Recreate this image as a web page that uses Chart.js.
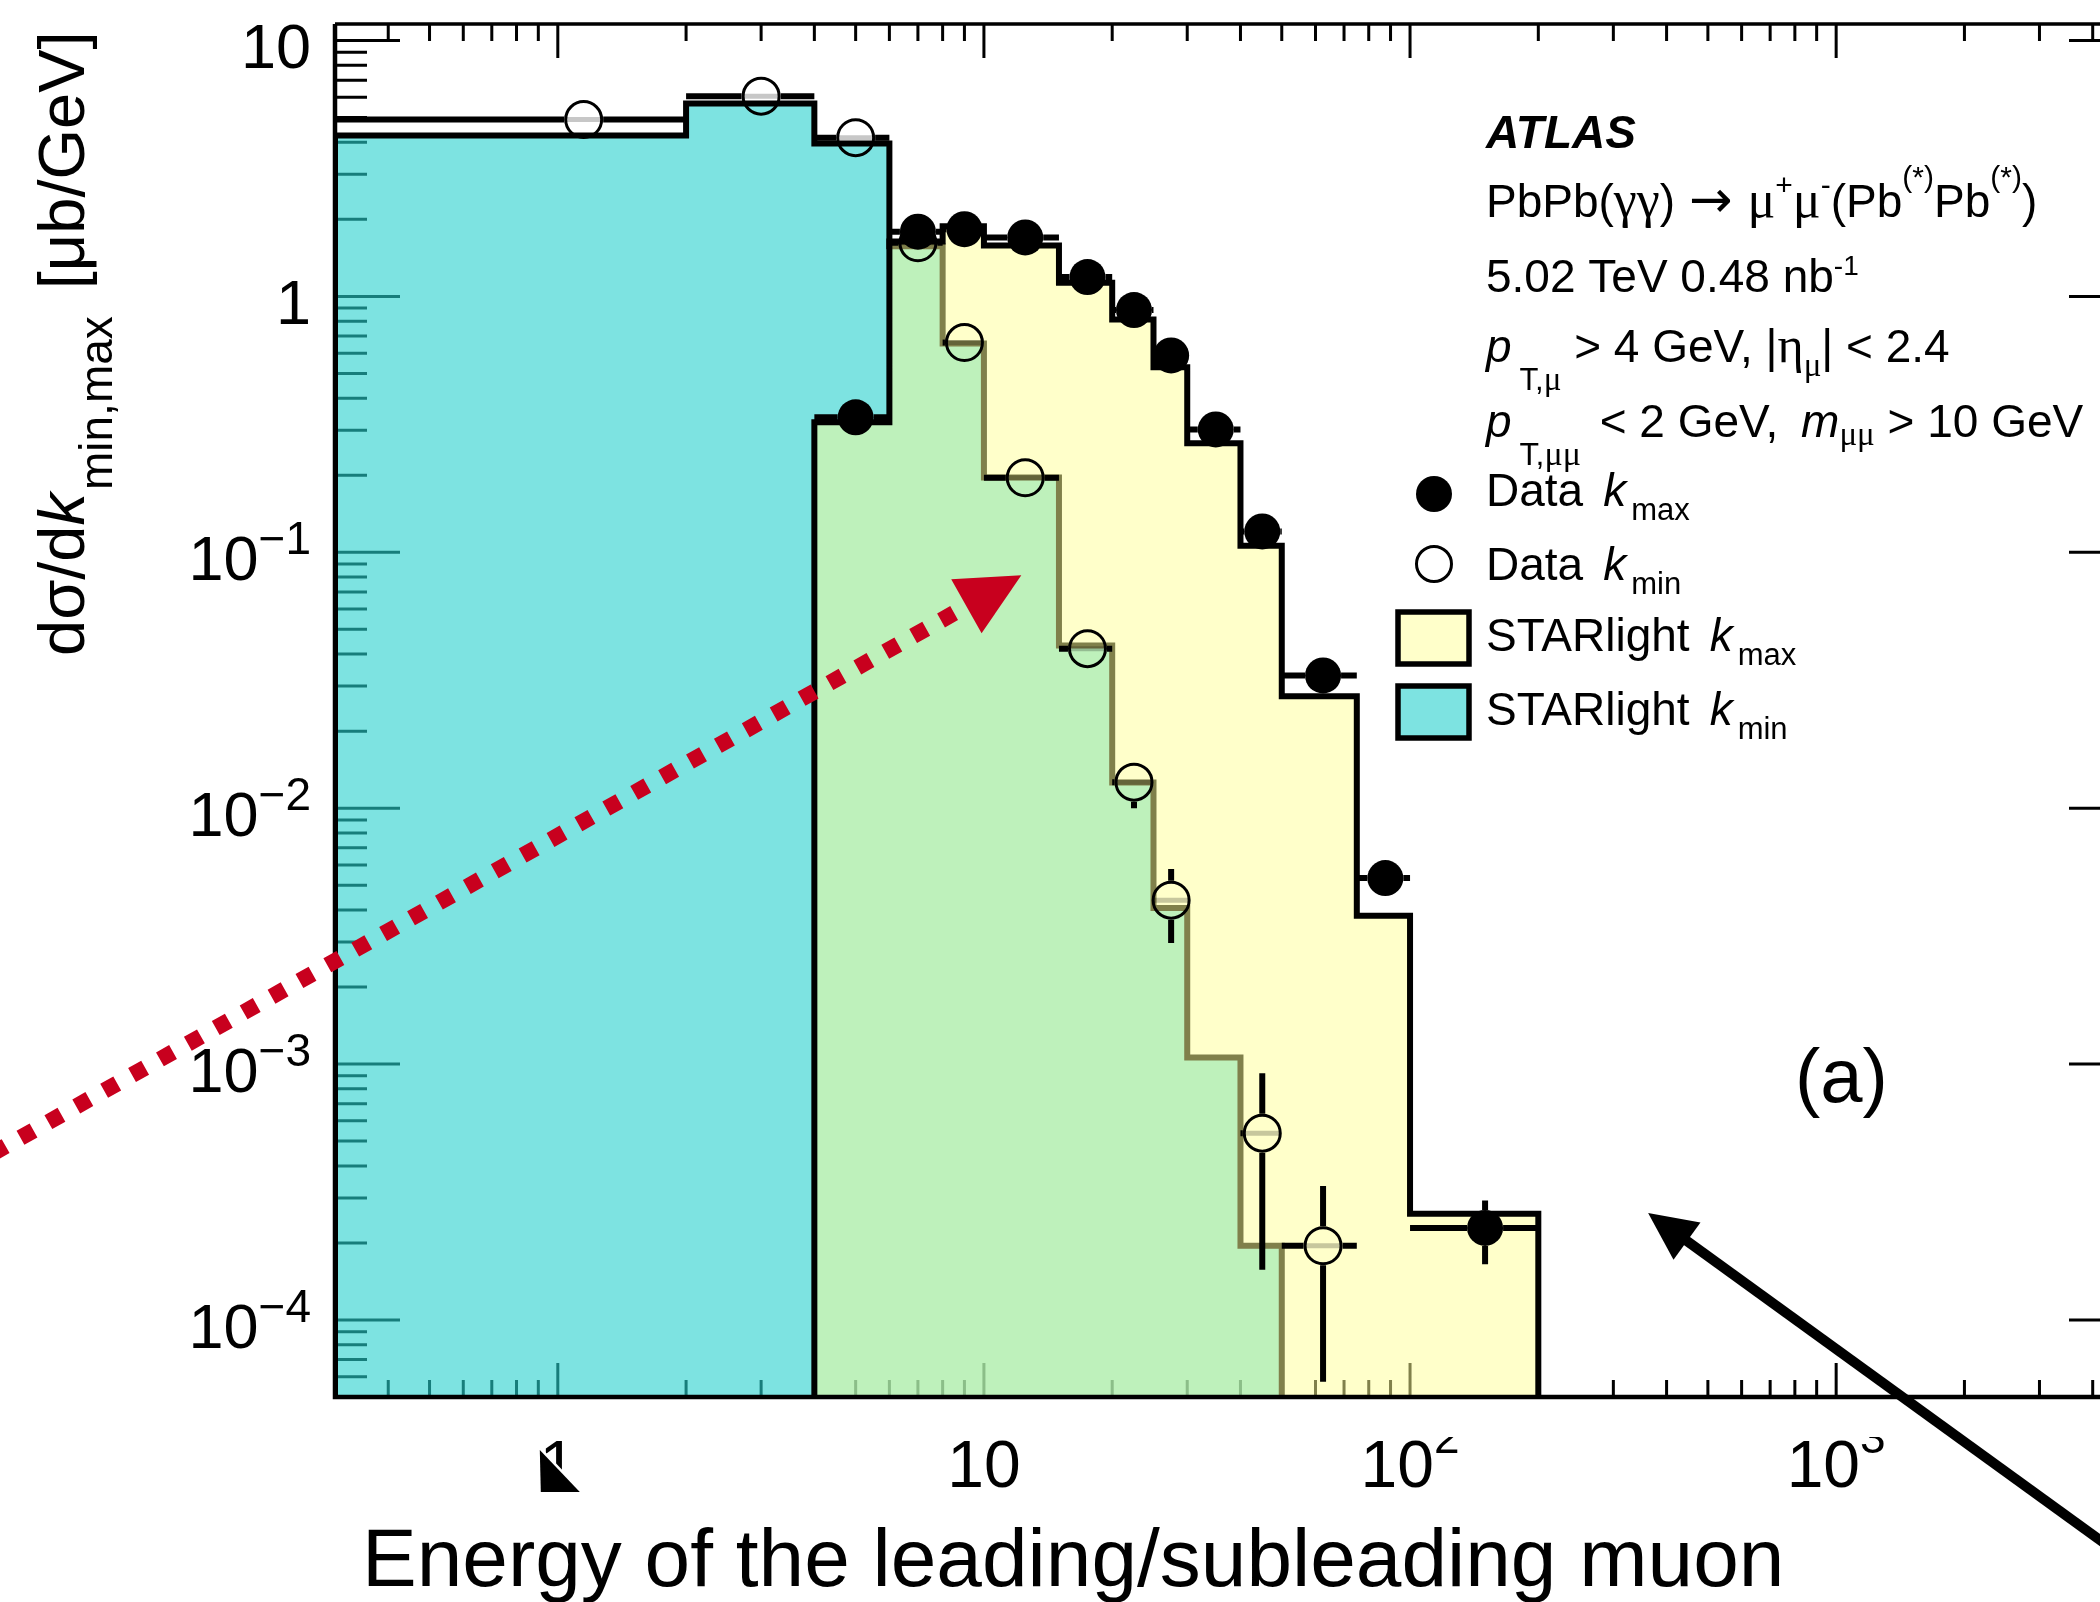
<!DOCTYPE html>
<html>
<head>
<meta charset="utf-8">
<script src="https://cdn.jsdelivr.net/npm/chart.js@4/dist/chart.umd.min.js"></script>
<style>
  html, body { margin: 0; padding: 0; background: #ffffff; overflow: hidden; width: 2100px; height: 1602px; }
  #wrap { position: absolute; left: 0; top: 0; width: 2200px; height: 1602px; }
</style>
</head>
<body>
<div id="wrap"><canvas id="c" width="2200" height="1602"></canvas></div>
<script>
// ---------------- data ----------------
const binEdges = [0.3, 2, 4, 6, 8, 10, 15, 20, 25, 30, 40, 50, 75, 100, 200];

const starlightKmin = [4.25, 5.67, 3.96, 1.57, 0.655, 0.196, 0.0432, 0.0126, 0.00407, 0.00106, 0.000195, 0, 0, 0];
const starlightKmax = [0, 0, 0.322, 1.64, 1.88, 1.58, 1.13, 0.813, 0.528, 0.267, 0.106, 0.0274, 0.0038, 0.00026];

const dataKmin        = [4.91, 6.06, 4.17, 1.62, 0.66, 0.1955, 0.042, 0.01264, 0.00437, null, 0.000537, 0.000195, null, null];
const dataKminErrLow  = [4.75, 5.90, 4.05, 1.56, 0.63, 0.185, 0.038, 0.0100, 0.00297, null, 0.000157, 0.0000573, null, null];
const dataKminErrHigh = [5.07, 6.22, 4.30, 1.68, 0.69, 0.207, 0.046, 0.0150, 0.00578, null, 0.00092, 0.000334, null, null];

const dataKmax        = [null, null, 0.337, 1.79, 1.83, 1.70, 1.19, 0.884, 0.588, 0.302, 0.1206, 0.0330, 0.00533, 0.000229];
const dataKmaxErrLow  = [null, null, 0.320, 1.74, 1.78, 1.65, 1.15, 0.850, 0.560, 0.285, 0.112, 0.0300, 0.0046, 0.000165];
const dataKmaxErrHigh = [null, null, 0.354, 1.84, 1.88, 1.75, 1.23, 0.920, 0.616, 0.319, 0.129, 0.0360, 0.0061, 0.000293];

const xRange = [0.3, 5000];
const yRange = [5e-5, 11.6];

const xTickValues = [1, 10, 100, 1000];
const xTickLabels = [['1', ''], ['10', ''], ['10', '2'], ['10', '3']];
const yTickValues = [10, 1, 0.1, 0.01, 0.001, 0.0001];
const yTickLabels = [['10', ''], ['1', ''], ['10', '\u22121'], ['10', '\u22122'], ['10', '\u22123'], ['10', '\u22124']];

// annotation arrows, in data coordinates [x, y]
const redArrowFrom = [0.03, 2.93e-4];
const redArrowTo = [12.24, 0.0813];
const blackArrowFrom = [7194, 7.13e-6];
const blackArrowTo = [362, 2.62e-4];

// ---------------- styles ----------------
const FONT = '"Liberation Sans", Arial, Helvetica, sans-serif';
const SERIF = '"Liberation Serif", "DejaVu Serif", serif';
const ARROWFONT = '"DejaVu Sans", sans-serif';
const KMIN_FILL = 'rgba(38,208,205,0.6)';
const KMAX_FILL = 'rgba(255,255,150,0.5)';
const RED = '#c8001e';

// ---------------- helpers ----------------
function histPoints(values, floor) {
  const first = values.findIndex(v => v > 0);
  let last = values.length - 1;
  while (last >= 0 && !(values[last] > 0)) last--;
  const pts = [{x: binEdges[first], y: floor}];
  for (let i = first; i <= last; i++) {
    pts.push({x: binEdges[i], y: values[i]});
    pts.push({x: binEdges[i + 1], y: values[i]});
  }
  pts.push({x: binEdges[last + 1], y: floor});
  return pts;
}
function dataPoints(values, lo, hi) {
  const pts = [];
  values.forEach((v, i) => {
    if (v == null) return;
    pts.push({x: (binEdges[i] + binEdges[i + 1]) / 2, y: v,
              lo: binEdges[i], hi: binEdges[i + 1], eLow: lo[i], eHigh: hi[i]});
  });
  return pts;
}
function rich(ctx, x, y, segs, size) {
  let cx = x;
  segs.forEach(s => {
    const sz = s.size || size;
    ctx.font = (s.style ? s.style + ' ' : '') + sz + 'px ' + (s.family || FONT);
    cx += s.dx || 0;
    ctx.fillText(s.t, cx, y + (s.dy || 0));
    cx += ctx.measureText(s.t).width;
  });
  return cx;
}
function arrow(ctx, p0, p1, opt) {
  const dx = p1[0] - p0[0], dy = p1[1] - p0[1];
  const L = Math.hypot(dx, dy), ux = dx / L, uy = dy / L;
  const bx = p1[0] - ux * opt.head, by = p1[1] - uy * opt.head;
  ctx.save();
  ctx.strokeStyle = opt.color; ctx.fillStyle = opt.color;
  ctx.lineWidth = opt.width; ctx.lineCap = 'butt';
  if (opt.dash) ctx.setLineDash(opt.dash);
  ctx.beginPath(); ctx.moveTo(p0[0], p0[1]); ctx.lineTo(bx + ux * 2, by + uy * 2); ctx.stroke();
  ctx.setLineDash([]);
  ctx.beginPath();
  ctx.moveTo(p1[0], p1[1]);
  ctx.lineTo(bx - uy * opt.headW / 2, by + ux * opt.headW / 2);
  ctx.lineTo(bx + uy * opt.headW / 2, by - ux * opt.headW / 2);
  ctx.closePath(); ctx.fill();
  ctx.restore();
}

// ---------------- plugin: ROOT-style axes, error bars, text ----------------
const rootStyle = {
  id: 'rootStyle',
  beforeDatasetsDraw(chart) {
    const {ctx, chartArea: a, scales: {x, y}} = chart;
    ctx.save();
    ctx.strokeStyle = '#000'; ctx.lineWidth = 3;
    ctx.beginPath();
    for (let e = -1; e <= 4; e++) for (let m = 1; m <= 9; m++) {
      const v = m * Math.pow(10, e);
      if (v < x.min * 0.999 || v > x.max * 1.001) continue;
      const px = x.getPixelForValue(v), L = m === 1 ? 34 : 17;
      ctx.moveTo(px, a.bottom); ctx.lineTo(px, a.bottom - L);
      ctx.moveTo(px, a.top); ctx.lineTo(px, a.top + L);
    }
    for (let e = -5; e <= 1; e++) for (let m = 1; m <= 9; m++) {
      const v = m * Math.pow(10, e);
      if (v < y.min * 0.999 || v > y.max * 1.001) continue;
      const py = y.getPixelForValue(v), L = m === 1 ? 65 : 32;
      ctx.moveTo(a.left, py); ctx.lineTo(a.left + L, py);
      ctx.moveTo(a.right, py); ctx.lineTo(a.right - L, py);
    }
    ctx.stroke();
    ctx.restore();
  },
  beforeDatasetDraw(chart, args) {
    const ds = chart.data.datasets[args.index];
    if (!ds.markerR) return;
    const {ctx, chartArea: a, scales: {x, y}} = chart;
    const r = ds.markerR;
    ctx.save();
    ctx.lineCap = 'butt';
    ds.data.forEach(p => {
      const px = x.getPixelForValue(p.x), py = y.getPixelForValue(p.y);
      const xl = x.getPixelForValue(p.lo), xh = x.getPixelForValue(p.hi);
      const yl = Math.min(y.getPixelForValue(p.eLow), a.bottom), yh = y.getPixelForValue(p.eHigh);
      ctx.strokeStyle = '#000'; ctx.lineWidth = 6;
      ctx.beginPath();
      if (px - r > xl) { ctx.moveTo(xl, py); ctx.lineTo(px - r, py); }
      if (xh > px + r) { ctx.moveTo(px + r, py); ctx.lineTo(xh, py); }
      if (yh < py - r) { ctx.moveTo(px, py - r); ctx.lineTo(px, yh); }
      if (yl > py + r) { ctx.moveTo(px, py + r); ctx.lineTo(px, yl); }
      ctx.stroke();
      if (ds.open) {
        ctx.strokeStyle = 'rgba(0,0,0,0.22)'; ctx.lineWidth = 5;
        ctx.beginPath(); ctx.moveTo(px - r + 2, py); ctx.lineTo(px + r - 2, py); ctx.stroke();
      }
    });
    ctx.restore();
  },
  afterDatasetsDraw(chart) {
    const {ctx, chartArea: a, scales: {x, y}} = chart;
    ctx.save();
    // frame
    ctx.strokeStyle = '#000';
    ctx.lineWidth = 4.5;
    ctx.beginPath();
    ctx.moveTo(a.left, a.top); ctx.lineTo(a.left, a.bottom); ctx.lineTo(a.right, a.bottom);
    ctx.stroke();
    ctx.lineWidth = 3.5;
    ctx.beginPath(); ctx.moveTo(a.left, a.top); ctx.lineTo(a.right, a.top); ctx.lineTo(a.right, a.bottom); ctx.stroke();

    ctx.fillStyle = '#000';
    ctx.textAlign = 'left'; ctx.textBaseline = 'alphabetic';

    // y tick labels
    yTickValues.forEach((v, i) => {
      const py = y.getPixelForValue(v);
      const [b, s] = yTickLabels[i];
      ctx.font = '63px ' + FONT; const wb = ctx.measureText(b).width;
      ctx.font = '46px ' + FONT; const ws = s ? ctx.measureText(s).width : 0;
      const x0 = a.left - 24 - wb - ws;
      ctx.font = '63px ' + FONT; ctx.fillText(b, x0, py + 28);
      if (s) { ctx.font = '46px ' + FONT; ctx.fillText(s, x0 + wb, py + 2); }
    });

    // x tick labels (top part cut like the reference)
    ctx.save();
    ctx.beginPath(); ctx.rect(0, a.bottom + 40, chart.width, 200); ctx.clip();
    xTickValues.forEach((v, i) => {
      const px = x.getPixelForValue(v);
      const [b, s] = xTickLabels[i];
      ctx.font = '66px ' + FONT; const wb = ctx.measureText(b).width;
      ctx.font = '46px ' + FONT; const ws = s ? ctx.measureText(s).width : 0;
      const x0 = px - (wb + ws) / 2;
      ctx.font = '66px ' + FONT; ctx.fillText(b, x0, a.bottom + 90);
      if (s) { ctx.font = '46px ' + FONT; ctx.fillText(s, x0 + wb, a.bottom + 56); }
    });
    // mouse pointer sitting on the "1" label
    const p1 = x.getPixelForValue(1), yb = a.bottom;
    ctx.beginPath();
    ctx.moveTo(p1 - 18, yb + 53); ctx.lineTo(p1 - 17, yb + 95); ctx.lineTo(p1 + 22, yb + 95); ctx.closePath();
    ctx.lineWidth = 5; ctx.strokeStyle = '#ffffff'; ctx.lineJoin = 'round'; ctx.stroke();
    ctx.fillStyle = '#000'; ctx.fill();
    ctx.restore();

    // x title
    ctx.fillStyle = '#000';
    ctx.font = '82px ' + FONT;
    ctx.fillText('Energy of the leading/subleading muon', 362, 1586);

    // y title (rotated)
    ctx.save();
    ctx.translate(84, 656); ctx.rotate(-Math.PI / 2);
    rich(ctx, 0, 0, [
      {t: 'd\u03c3/d'}, {t: 'k', style: 'italic'},
      {t: 'min,max', size: 46, dy: 28, dx: 3},
      {t: '[\u03bcb/GeV]', dx: 27}
    ], 65);
    ctx.restore();

    // info text
    const TX = 1486;
    rich(ctx, TX, 148, [{t: 'ATLAS', style: 'italic bold'}], 46);
    rich(ctx, TX, 217, [
      {t: 'PbPb('}, {t: '\u03b3\u03b3', family: SERIF, size: 52}, {t: ')'},
      {t: '\u2192', family: ARROWFONT, size: 52, dx: 14}, {t: ' '},
      {t: '\u03bc', family: SERIF, size: 52, dx: 2}, {t: '+', size: 30, dy: -22},
      {t: '\u03bc', family: SERIF, size: 52}, {t: '-', size: 30, dy: -22},
      {t: '(Pb'}, {t: '(*)', size: 30, dy: -30}, {t: 'Pb'}, {t: '(*)', size: 30, dy: -30}, {t: ')'}
    ], 46);
    rich(ctx, TX, 292, [{t: '5.02 TeV 0.48 nb'}, {t: '-1', size: 28, dy: -17}], 46);
    rich(ctx, TX, 362, [
      {t: 'p', style: 'italic'}, {t: 'T,', size: 31, dy: 28, dx: 8}, {t: '\u03bc', size: 33, dy: 28, family: SERIF},
      {t: ' > 4 GeV, |'}, {t: '\u03b7', family: SERIF, size: 50}, {t: '\u03bc', size: 33, dy: 14, family: SERIF}, {t: '| < 2.4'}
    ], 46);
    rich(ctx, TX, 437, [
      {t: 'p', style: 'italic'}, {t: 'T,', size: 32, dy: 28, dx: 8}, {t: '\u03bc\u03bc', size: 34, dy: 28, family: SERIF},
      {t: ' < 2 GeV, ', dx: 6}, {t: 'm', style: 'italic', dx: 10}, {t: '\u03bc\u03bc', size: 33, dy: 8, family: SERIF},
      {t: ' > 10 GeV'}
    ], 46);

    // legend
    const legendRows = [
      {yb: 506, mark: 'filled', name: 'Data', sub: 'max'},
      {yb: 580, mark: 'open', name: 'Data', sub: 'min'},
      {yb: 651, mark: KMAX_FILL, name: 'STARlight', sub: 'max'},
      {yb: 725, mark: KMIN_FILL, name: 'STARlight', sub: 'min'}
    ];
    legendRows.forEach(row => {
      ctx.fillStyle = '#000';
      rich(ctx, TX, row.yb, [{t: row.name}, {t: 'k', style: 'italic', dx: 20}, {t: row.sub, size: 31, dy: 14, dx: 5}], 46);
      if (row.mark === 'filled') {
        ctx.beginPath(); ctx.arc(1434, row.yb - 12, 18, 0, Math.PI * 2); ctx.fill();
      } else if (row.mark === 'open') {
        ctx.beginPath(); ctx.arc(1434, row.yb - 16, 17.5, 0, Math.PI * 2);
        ctx.lineWidth = 3; ctx.strokeStyle = '#000'; ctx.stroke();
      } else {
        ctx.fillStyle = row.mark;
        ctx.fillRect(1398, row.yb - 39, 71, 52);
        ctx.lineWidth = 5.5; ctx.strokeStyle = '#000';
        ctx.strokeRect(1398, row.yb - 39, 71, 52);
      }
    });

    // panel label
    ctx.fillStyle = '#000';
    ctx.font = '76px ' + FONT;
    ctx.fillText('(a)', 1795, 1102);

    // annotation arrows
    const px = p => [x.getPixelForValue(p[0]), y.getPixelForValue(p[1])];
    arrow(ctx, px(redArrowFrom), px(redArrowTo), {color: RED, width: 16, dash: [15, 17], head: 63, headW: 62});
    arrow(ctx, px(blackArrowFrom), px(blackArrowTo), {color: '#000', width: 10, head: 48, headW: 46});
    ctx.restore();
  }
};

// ---------------- chart ----------------
new Chart(document.getElementById('c'), {
  type: 'scatter',
  data: {
    datasets: [
      {label: 'STARlight k_min', data: histPoints(starlightKmin, yRange[0]), showLine: true, fill: 'start',
       backgroundColor: KMIN_FILL, borderColor: '#000', borderWidth: 6, borderJoinStyle: 'miter',
       pointRadius: 0, order: 4},
      {label: 'STARlight k_max', data: histPoints(starlightKmax, yRange[0]), showLine: true, fill: 'start',
       backgroundColor: KMAX_FILL, borderColor: '#000', borderWidth: 6, borderJoinStyle: 'miter',
       pointRadius: 0, order: 3},
      {label: 'Data k_min', data: dataPoints(dataKmin, dataKminErrLow, dataKminErrHigh),
       pointRadius: 18, pointBackgroundColor: 'rgba(0,0,0,0)', pointBorderColor: '#000', pointBorderWidth: 3,
       order: 2, markerR: 19.5, open: true},
      {label: 'Data k_max', data: dataPoints(dataKmax, dataKmaxErrLow, dataKmaxErrHigh),
       pointRadius: 18, pointBackgroundColor: '#000', pointBorderColor: '#000', pointBorderWidth: 0,
       order: 1, markerR: 18}
    ]
  },
  options: {
    responsive: false,
    devicePixelRatio: 1,
    animation: false,
    events: [],
    layout: {padding: {left: 335, top: 24, right: 66, bottom: 205}},
    scales: {
      x: {type: 'logarithmic', min: xRange[0], max: xRange[1], display: false},
      y: {type: 'logarithmic', min: yRange[0], max: yRange[1], display: false}
    },
    plugins: {legend: {display: false}, tooltip: {enabled: false}}
  },
  plugins: [rootStyle]
});
</script>
</body>
</html>
